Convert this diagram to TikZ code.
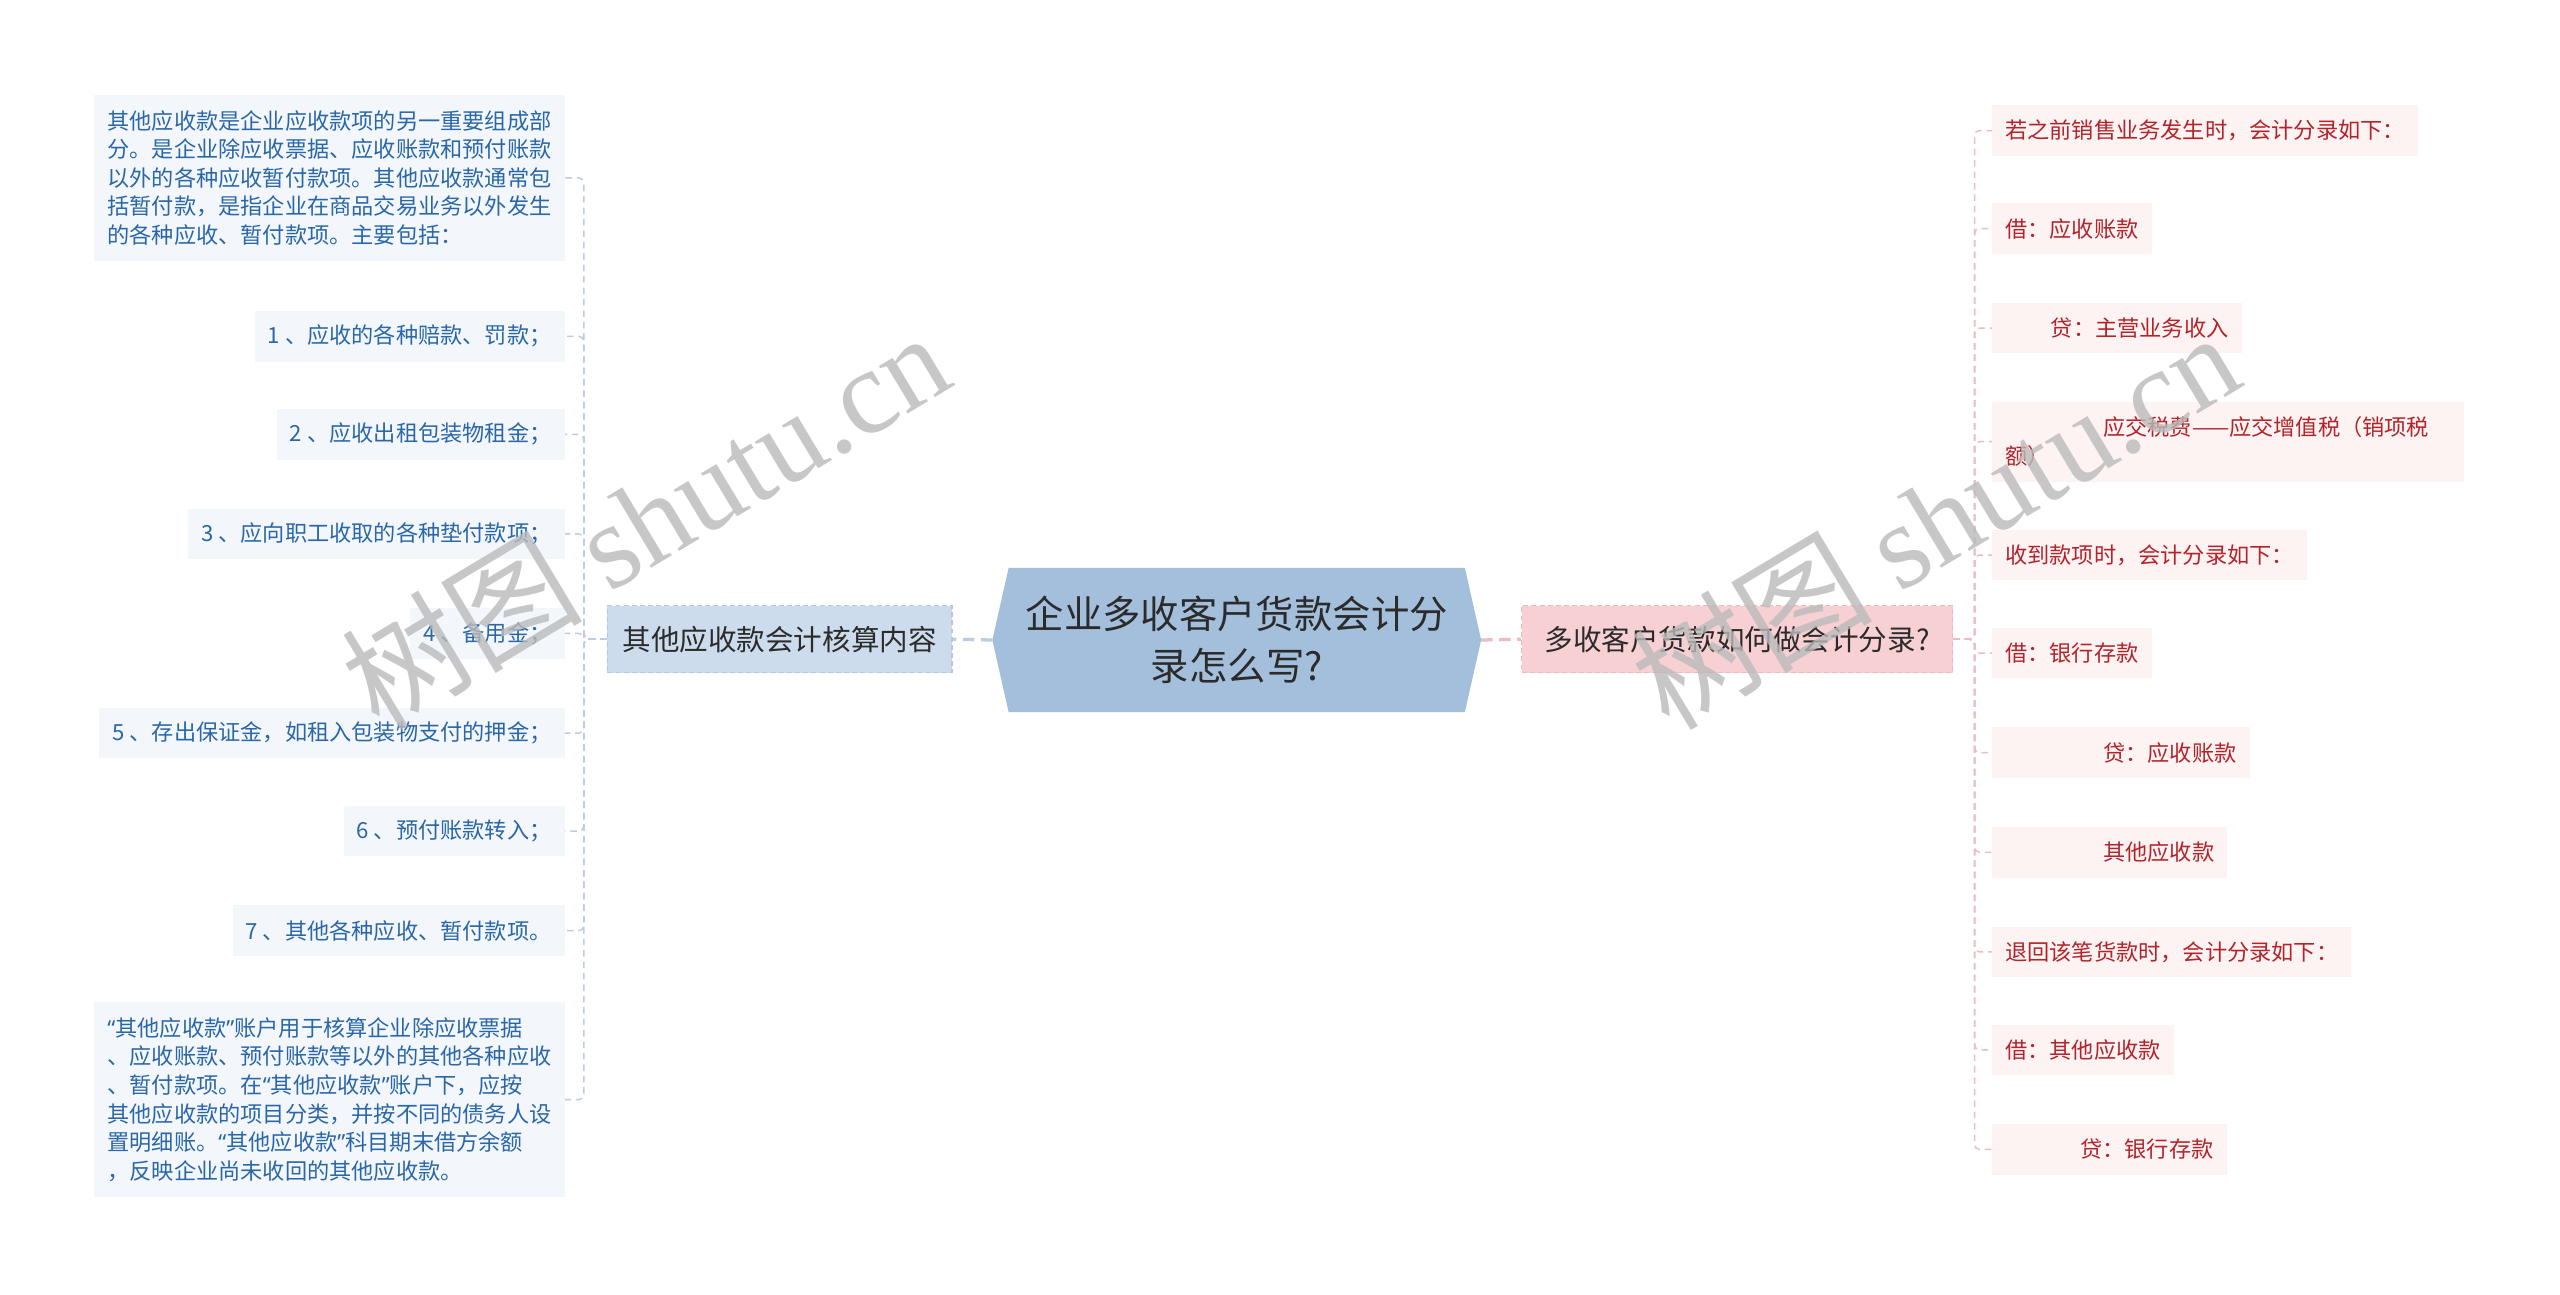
\documentclass[tikz,border=0pt]{standalone}
\usepackage{fontspec}
\setmainfont{Noto Sans CJK SC}
\newfontfamily\wmserif{Liberation Serif}
\newfontfamily\qfont{Noto Sans}
\newcommand{\myql}{{\qfont “}}
\newcommand{\myqr}{{\qfont ”}}
\definecolor{cfill}{HTML}{A3BFDC}
\definecolor{lmfill}{HTML}{CDDCEC}
\definecolor{lmdraw}{HTML}{B3C8DF}
\definecolor{rmfill}{HTML}{F6D0D3}
\definecolor{rmdraw}{HTML}{EDB9BE}
\definecolor{llfill}{HTML}{F3F7FC}
\definecolor{rlfill}{HTML}{FDF3F3}
\definecolor{ltext}{HTML}{2A67A8}
\definecolor{rtext}{HTML}{B3232A}
\definecolor{lline}{HTML}{BACDE1}
\definecolor{rline}{HTML}{EBBCC1}
\definecolor{maintext}{HTML}{2B2B2B}
\tikzset{
  lleaf/.style={fill=llfill, text=ltext, inner xsep=8pt, inner ysep=0pt, minimum height=31pt, anchor=east, font=\fontsize{13.6pt}{17.5pt}\selectfont},
  rleaf/.style={fill=rlfill, text=rtext, inner xsep=8pt, inner ysep=0pt, minimum height=31pt, anchor=west, font=\fontsize{13.6pt}{17.5pt}\selectfont},
  lpara/.style={lleaf, text width=272pt, align=left},
  mainbox/.style={inner sep=0pt, text=maintext, font=\fontsize{17.5pt}{21pt}\selectfont, minimum height=41pt, dash pattern=on 3pt off 2pt, line width=0.8pt},
  lconn/.style={draw=lline, line width=0.9pt, dash pattern=on 4pt off 3pt, rounded corners=3pt},
  rconn/.style={draw=rline, line width=0.9pt, dash pattern=on 4pt off 3pt, rounded corners=3pt},
  wm/.style={text=black!27, opacity=0.8, rotate=31, inner sep=0pt}
}
\begin{document}
\begin{tikzpicture}[x=1pt, y=-1pt]
\useasboundingbox[fill=white] (0,0) rectangle (1568,793);

% central node
\node[inner sep=0pt, minimum width=299pt, minimum height=88pt, text=maintext, align=center,
      font=\fontsize{23.5pt}{32pt}\selectfont] (c) at (757.5,392) {};
\fill[cfill] (c.west) -- ([xshift=10pt]c.north west) -- ([xshift=-10pt]c.north east) -- (c.east)
   -- ([xshift=-10pt]c.south east) -- ([xshift=10pt]c.south west) -- cycle;
\node[text=maintext, align=center, font=\fontsize{23.5pt}{32pt}\selectfont] at (c.center) {企业多收客户货款会计分\\录怎么写?};

% main branch nodes
\node[mainbox, fill=lmfill, draw=lmdraw, minimum width=211pt] (lm) at (477.5,391.5) {其他应收款会计核算内容};
\node[mainbox, fill=rmfill, draw=rmdraw, minimum width=264pt] (rm) at (1064,391.5) {多收客户货款如何做会计分录?};

\draw[draw=lline, line width=2pt, dash pattern=on 7pt off 4pt] (c.west) -- (lm.east);
\draw[draw=rline, line width=2pt, dash pattern=on 7pt off 4pt] (c.east) -- (rm.west);

% left leaves
\node[lpara, minimum height=102pt] (l0) at (346,109) {其他应收款是企业应收款项的另一重要组成部\\分。是企业除应收票据、应收账款和预付账款\\以外的各种应收暂付款项。其他应收款通常包\\括暂付款，是指企业在商品交易业务以外发生\\的各种应收、暂付款项。主要包括：};
\node[lleaf] (l1) at (346,206) {1 、应收的各种赔款、罚款；};
\node[lleaf] (l2) at (346,266) {2 、应收出租包装物租金；};
\node[lleaf] (l3) at (346,327) {3 、应向职工收取的各种垫付款项；};
\node[lleaf] (l4) at (346,388) {4 、备用金；};
\node[lleaf] (l5) at (346,449) {5 、存出保证金，如租入包装物支付的押金；};
\node[lleaf] (l6) at (346,509) {6 、预付账款转入；};
\node[lleaf] (l7) at (346,570) {7 、其他各种应收、暂付款项。};
\node[lpara, minimum height=119pt] (l8) at (346,673.5) {\myql 其他应收款\myqr 账户用于核算企业除应收票据\\、应收账款、预付账款等以外的其他各种应收\\、暂付款项。在\myql 其他应收款\myqr 账户下，应按\\其他应收款的项目分类，并按不同的债务人设\\置明细账。\myql 其他应收款\myqr 科目期末借方余额\\，反映企业尚未收回的其他应收款。};

\foreach \n in {l0,l1,l2,l3,l4,l5,l6,l7,l8}
  \draw[lconn] (lm.west) -- ([xshift=-14pt]lm.west) |- (\n.east);

% right leaves
\node[rleaf] (r1) at (1220,80) {若之前销售业务发生时，会计分录如下：};
\node[rleaf] (r2) at (1220,140) {借：应收账款};
\node[rleaf] (r3) at (1220,201) {\hspace*{28pt}贷：主营业务收入};
\node[rleaf, text width=273pt, align=left, minimum height=49pt] (r4) at (1220,270.5) {\hspace*{60pt}应交税费——应交增值税（销项税\\额）};
\node[rleaf] (r5) at (1220,340) {收到款项时，会计分录如下：};
\node[rleaf] (r6) at (1220,400) {借：银行存款};
\node[rleaf] (r7) at (1220,461) {\hspace*{60pt}贷：应收账款};
\node[rleaf] (r8) at (1220,522) {\hspace*{60pt}其他应收款};
\node[rleaf] (r9) at (1220,583) {退回该笔货款时，会计分录如下：};
\node[rleaf] (r10) at (1220,643) {借：其他应收款};
\node[rleaf] (r11) at (1220,704) {\hspace*{46pt}贷：银行存款};

\foreach \n in {r1,r2,r3,r4,r5,r6,r7,r8,r9,r10,r11}
  \draw[rconn] (rm.east) -- ([xshift=13pt]rm.east) |- (\n.west);

% watermarks
\node[wm] (wm1) at (395,318) {\fontsize{74pt}{74pt}\selectfont 树图 {\wmserif shutu.cn}};
\node[wm] (wm2) at (1185,318) {\fontsize{74pt}{74pt}\selectfont 树图 {\wmserif shutu.cn}};
\end{tikzpicture}
\end{document}
